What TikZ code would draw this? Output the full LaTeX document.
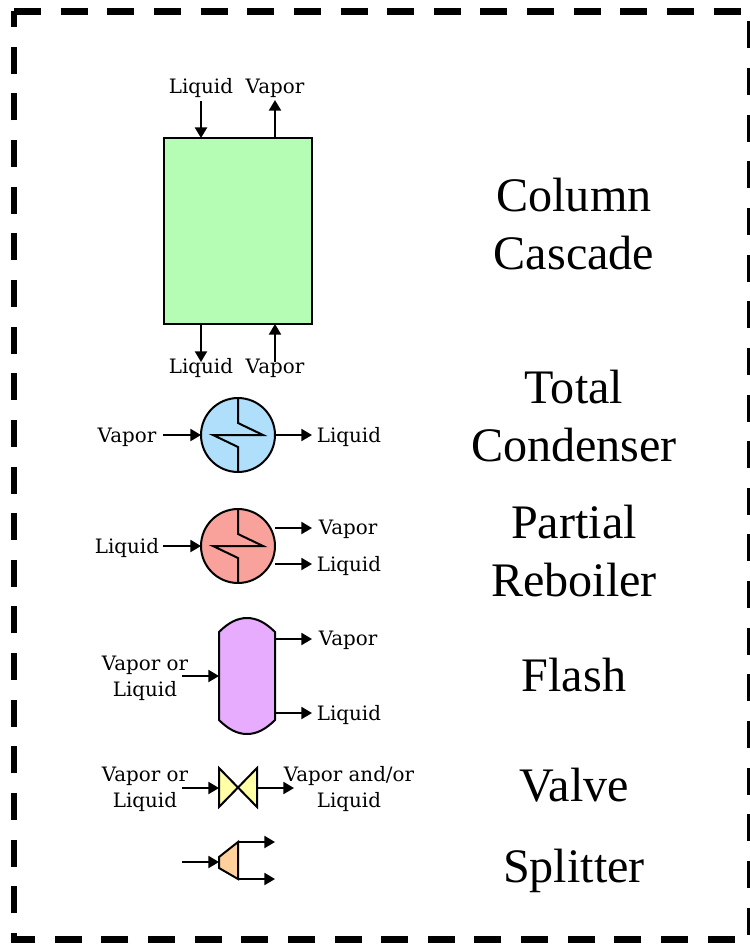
\documentclass[tikz,border=0pt]{standalone}
\usepackage{fontspec}
\setmainfont{Liberation Serif}
\newfontfamily\labelfont{DejaVu Serif}
\usetikzlibrary{arrows.meta}

\definecolor{Ccolumngreen}{HTML}{B5FDB5}
\definecolor{Ccondblue}{HTML}{B0DFFB}
\definecolor{Creboilred}{HTML}{F9A29C}
\definecolor{Cflashpurple}{HTML}{E8ACFF}
\definecolor{Cvalveyellow}{HTML}{FFFFA5}
\definecolor{Csplitorange}{HTML}{FFD09B}

\tikzset{
	unit/.style={draw=black,line width=1.14pt,inner sep=0pt,outer sep=0pt},
	flow/.style={line width=1.14pt,-{Triangle[length=6pt,width=6.8pt]}},
	wire/.style={line width=1.14pt,line join=miter},
	streamtext/.style={font=\labelfont\fontsize{11.3}{14.8}\selectfont,align=center,inner sep=0pt},
	unittext/.style={font=\fontsize{27.4}{33}\selectfont,align=center,inner sep=0pt},
}

\begin{document}
\begin{tikzpicture}[x=0.02cm,y=-0.02cm]
		\useasboundingbox (0,0) rectangle (750,944);
		\draw[line width=3.98pt,dash pattern=on 15.36pt off 11.19pt]
		(14,11) -- (750,11) -- (750,939) -- (14,939) -- cycle;

		% column cascade
		\node[unit,fill=Ccolumngreen,minimum width=148*0.569pt,minimum height=186*0.569pt] (column) at (238,231) {};
		\node[streamtext] (coltopliq) at (201,88.5) {Liquid};
		\node[streamtext] (coltopvap) at (275,88.5) {Vapor};
		\node[streamtext] (colbotliq) at (201,368.5) {Liquid};
		\node[streamtext] (colbotvap) at (275,368.5) {Vapor};
		\coordinate (coltopin) at (201,101);
		\coordinate (coltopout) at (275,100);
		\coordinate (colbotout) at (201,362);
		\coordinate (colbotin) at (275,362);
		\draw[flow] (coltopin) -- (coltopin |- column.north);
		\draw[flow] (coltopout |- column.north) -- (coltopout);
		\draw[flow] (colbotout |- column.south) -- (colbotout);
		\draw[flow] (colbotin) -- (colbotin |- column.south);
		\node[unittext] (columnname) at (574,224) {Column\\Cascade};

		% total condenser
		\node[unit,circle,fill=Ccondblue,minimum size=74*0.569pt] (condenser) at (238,435) {};
		\node[streamtext] (condvap) at (127,437.5) {Vapor};
		\node[streamtext] (condliq) at (349,437.5) {Liquid};
		\coordinate (condin) at (163,435);
		\coordinate (condout) at (312,435);
		\draw[flow] (condin) -- (condenser);
		\draw[flow] (condenser) -- (condout);
		\node[unittext] (condname) at (574,416) {Total\\Condenser};

		% partial reboiler
		\node[unit,circle,fill=Creboilred,minimum size=74*0.569pt] (reboiler) at (238,546) {};
		\node[streamtext] (reboilliq) at (127,548.5) {Liquid};
		\node[streamtext] (reboilvapout) at (348,529.5) {Vapor};
		\node[streamtext] (reboilliqout) at (349,566.5) {Liquid};
		\coordinate (reboilin) at (163,546);
		\coordinate (reboilup) at (275,528);
		\coordinate (reboildown) at (275,564);
		\draw[flow] (reboilin) -- (reboiler);
		\draw[flow] (reboilup) -- +(37,0);
		\draw[flow] (reboildown) -- +(37,0);
		\node[unittext] (reboilname) at (574,551) {Partial\\Reboiler};

		\foreach \ypos in {435,546} {
			\draw[wire] (238,\ypos-37) -- (238,\ypos-12) -- (263,\ypos) -- (213,\ypos) -- (238,\ypos+12) -- (238,\ypos+37);
		}

		% flash
		\draw[unit,fill=Cflashpurple] (219,632) .. controls (228,623) and (237,618) .. (247,618)
		.. controls (257,618) and (266,623) .. (275,632) -- (275,720)
		.. controls (266,729) and (257,734) .. (247,734)
		.. controls (237,734) and (228,729) .. (219,720) -- cycle;
		\coordinate (flashin) at (219,676);
		\coordinate (flashvap) at (275,639);
		\coordinate (flashliq) at (275,713);
		\node[streamtext] (flashfeed) at (145,678.5) {Vapor or\\Liquid};
		\node[streamtext] (flashvapout) at (348,640.5) {Vapor};
		\node[streamtext] (flashliqout) at (349,715.5) {Liquid};
		\draw[flow] (182,676) -- (flashin);
		\draw[flow] (flashvap) -- +(37,0);
		\draw[flow] (flashliq) -- +(37,0);
		\node[unittext] (flashname) at (574,675) {Flash};

		% valve
		\draw[unit,fill=Cvalveyellow] (219,768) -- (257,807) -- (257,768) -- (219,807) -- cycle;
		\coordinate (valvein) at (219,788);
		\coordinate (valveout) at (257,788);
		\node[streamtext] (valvefeed) at (145,789.5) {Vapor or\\Liquid};
		\node[streamtext] (valveprod) at (349,789.5) {Vapor and/or\\Liquid};
		\draw[flow] (182,788) -- (valvein);
		\draw[flow] (valveout) -- +(37,0);
		\node[unittext] (valvename) at (574,785) {Valve};

		% splitter
		\draw[unit,fill=Csplitorange] (219,857) -- (238,842) -- (238,879) -- (219,868) -- cycle;
		\coordinate (splitin) at (219,862);
		\coordinate (splitup) at (238,842);
		\coordinate (splitdown) at (238,879);
		\draw[flow] (182,862) -- (splitin);
		\draw[flow] (splitup) -- +(37,0);
		\draw[flow] (splitdown) -- +(37,0);
		\node[unittext] (splitname) at (574,871) {Splitter};
	\end{tikzpicture}
\end{document}
